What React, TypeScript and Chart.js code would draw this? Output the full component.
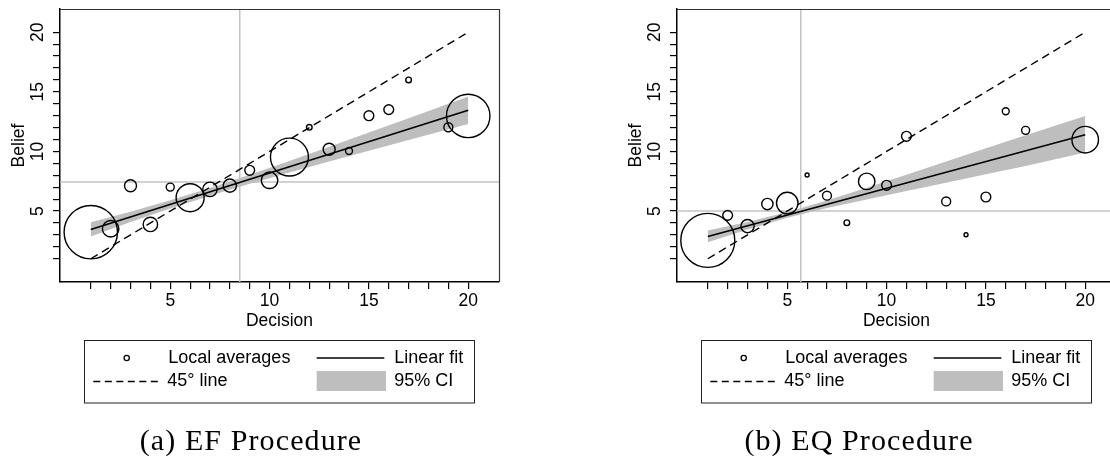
import React, { useEffect, useRef } from 'react';
import { Chart, registerables } from 'chart.js';

Chart.register(...registerables);

// ---------- data ----------
const decisionTicks = [1, 2, 3, 4, 5, 6, 7, 8, 9, 10, 11, 12, 13, 14, 15, 16, 17, 18, 19, 20];
const beliefTicks = [1, 2, 3, 4, 5, 6, 7, 8, 9, 10, 11, 12, 13, 14, 15, 16, 17, 18, 19, 20];
const labeledTicks = [5, 10, 15, 20];
const legendLabels = ['Local averages', 'Linear fit', '45° line', '95% CI'];
const axisTitles = { x: 'Decision', y: 'Belief' };

const diagX = [1, 20];
const diagY = [1, 20];
const ciX = [1, 3, 5, 7, 9, 11, 13, 15, 17, 20];
const fitX = [1, 20];

// (a) EF procedure
const efDecision = [1, 2, 3, 4, 5, 6, 7, 8, 9, 10, 11, 12, 13, 14, 15, 16, 17, 19, 20];
const efBelief = [3.23, 3.52, 7.13, 3.88, 7.01, 6.12, 6.82, 7.13, 8.42, 7.58, 9.53, 12.03, 10.18, 10.04, 13.0, 13.51, 16.0, 12.03, 12.98];
const efCounts = [178, 17, 9, 13, 4, 49, 13, 11, 6, 17, 90, 2, 9, 3, 6, 6, 2, 5, 118];
const efFitY = [3.46, 13.45];
const efCiLow = [2.87, 4.09, 5.22, 6.29, 7.29, 8.23, 9.15, 10.06, 10.96, 12.3];
const efCiHigh = [4.07, 4.94, 5.9, 6.93, 8.05, 9.2, 10.39, 11.59, 12.79, 14.6];
const efMeanDecision = 8.5;
const efMeanBelief = 7.43;

// (b) EQ procedure
const eqDecision = [1, 2, 3, 4, 5, 6, 7, 8, 9, 10, 11, 13, 14, 15, 16, 17, 20];
const eqBelief = [2.54, 4.64, 3.74, 5.59, 5.67, 8.02, 6.29, 4.02, 7.49, 7.16, 11.27, 5.81, 3.01, 6.18, 13.37, 11.77, 10.99];
const eqCounts = [182, 6, 11, 8, 29, 1, 5, 2, 17, 6, 6, 5, 1, 6, 3, 4, 44];
const eqFitY = [2.87, 11.41];
const eqCiLow = [2.38, 3.45, 4.43, 5.25, 5.98, 6.69, 7.38, 8.08, 8.77, 9.92];
const eqCiHigh = [3.36, 4.09, 4.92, 5.89, 6.96, 8.05, 9.15, 10.26, 11.36, 12.97];
const eqMeanDecision = 5.68;
const eqMeanBelief = 5.0;

const captions = ['(a) EF Procedure', '(b) EQ Procedure'];

// ---------- styling ----------
const SANS = '"Liberation Sans", Arial, Helvetica, sans-serif';
const SERIF = '"Liberation Serif", "Times New Roman", serif';
const BAND = '#bebebe';
const REF = '#c4c4c4';

const pts = (xs: number[], ys: number[]) => xs.map((x, i) => ({ x, y: ys[i] }));

type PanelProps = {
  decision: number[];
  belief: number[];
  counts: number[];
  fitY: number[];
  ciLow: number[];
  ciHigh: number[];
  meanX: number;
  meanY: number;
  left: number;
};

function Panel(p: PanelProps) {
  const ref = useRef<HTMLCanvasElement | null>(null);

  useEffect(() => {
    if (!ref.current) return;

    const decor = {
      id: 'decor',
      beforeDatasetsDraw(chart: any) {
        const { ctx, chartArea: a, scales } = chart;
        const px = scales.x.getPixelForValue(p.meanX);
        const py = scales.y.getPixelForValue(p.meanY);
        ctx.save();
        ctx.strokeStyle = REF;
        ctx.lineWidth = 1.5;
        ctx.beginPath();
        ctx.moveTo(px, a.top);
        ctx.lineTo(px, a.bottom);
        ctx.moveTo(a.left, py);
        ctx.lineTo(a.right, py);
        ctx.stroke();
        ctx.restore();
      },
      afterDraw(chart: any) {
        const { ctx, chartArea: a } = chart;
        ctx.save();
        // frame (top & right)
        ctx.strokeStyle = '#333';
        ctx.lineWidth = 1.2;
        ctx.beginPath();
        ctx.moveTo(a.left, a.top + 0.5);
        ctx.lineTo(a.right + 0.5, a.top + 0.5);
        ctx.lineTo(a.right + 0.5, a.bottom);
        ctx.stroke();

        // legend
        const L = a.left;
        const T = a.bottom + 58;
        const r1 = T + 18;
        const r2 = T + 41.5;
        ctx.strokeStyle = '#222';
        ctx.lineWidth = 1;
        ctx.strokeRect(L + 24.5, T + 0.5, 390, 62.5);

        ctx.strokeStyle = '#000';
        ctx.lineWidth = 1.3;
        ctx.beginPath();
        ctx.arc(L + 66.7, r1, 2.6, 0, Math.PI * 2);
        ctx.stroke();

        ctx.lineWidth = 1.4;
        ctx.beginPath();
        ctx.moveTo(L + 256.7, r1);
        ctx.lineTo(L + 324.3, r1);
        ctx.stroke();

        ctx.setLineDash([7, 4.5]);
        ctx.lineWidth = 1.4;
        ctx.beginPath();
        ctx.moveTo(L + 33.3, r2);
        ctx.lineTo(L + 100, r2);
        ctx.stroke();
        ctx.setLineDash([]);

        ctx.fillStyle = BAND;
        ctx.fillRect(L + 256.7, T + 31, 69.3, 20);

        ctx.fillStyle = '#000';
        ctx.font = `18px ${SANS}`;
        ctx.textBaseline = 'middle';
        ctx.textAlign = 'left';
        ctx.fillText(legendLabels[0], L + 108.3, r1);
        ctx.fillText(legendLabels[1], L + 334.3, r1);
        ctx.fillText(legendLabels[2], L + 107.3, r2);
        ctx.fillText(legendLabels[3], L + 334.3, r2);
        ctx.restore();
      },
    };

    const tickFont = { family: SANS, size: 17.5 };
    const zeroPad = (s: any) => {
      s.paddingTop = 0;
      s.paddingBottom = 0;
      s.paddingLeft = 0;
      s.paddingRight = 0;
    };

    const chart = new Chart(ref.current, {
      type: 'line',
      data: {
        datasets: [
          {
            label: legendLabels[0],
            data: pts(p.decision, p.belief),
            showLine: false,
            pointStyle: 'circle',
            pointRadius: (c: any) => 2 * Math.sqrt(p.counts[c.dataIndex] || 1),
            pointBackgroundColor: 'rgba(0,0,0,0)',
            pointBorderColor: '#000',
            pointBorderWidth: 1.4,
            order: 0,
          } as any,
          {
            label: legendLabels[1],
            data: pts(fitX, p.fitY),
            borderColor: '#000',
            borderWidth: 1.6,
            pointRadius: 0,
            fill: false,
            order: 1,
          },
          {
            label: legendLabels[2],
            data: pts(diagX, diagY),
            borderColor: '#000',
            borderWidth: 1.4,
            borderDash: [8, 5],
            pointRadius: 0,
            fill: false,
            order: 2,
          },
          {
            label: 'ci-low',
            data: pts(ciX, p.ciLow),
            borderWidth: 0,
            borderColor: 'rgba(0,0,0,0)',
            pointRadius: 0,
            fill: false,
            order: 3,
          },
          {
            label: legendLabels[3],
            data: pts(ciX, p.ciHigh),
            borderWidth: 0,
            borderColor: 'rgba(0,0,0,0)',
            backgroundColor: BAND,
            pointRadius: 0,
            fill: '-1',
            order: 4,
          },
        ],
      },
      options: {
        responsive: false,
        animation: false,
        devicePixelRatio: 1,
        events: [],
        layout: { padding: { left: 0, right: 56, top: 9, bottom: 141 }, autoPadding: false },
        plugins: { legend: { display: false }, tooltip: { enabled: false } },
        scales: {
          x: {
            type: 'linear',
            min: -0.55,
            max: 21.55,
            afterBuildTicks: (s: any) => {
              s.ticks = decisionTicks.map((v) => ({ value: v }));
            },
            afterFit: (s: any) => {
              s.height = 50;
              zeroPad(s);
            },
            ticks: {
              autoSkip: false,
              minRotation: 0,
              maxRotation: 0,
              padding: 2,
              color: '#000',
              font: tickFont,
              callback: (v: any) => (labeledTicks.includes(Number(v)) ? String(v) : ''),
            },
            grid: { display: true, drawOnChartArea: false, drawTicks: true, tickLength: 7, color: '#000', lineWidth: 1.2 },
            border: { display: true, color: '#000', width: 1.5 },
            title: { display: true, text: axisTitles.x, color: '#000', font: tickFont, padding: { top: 0, bottom: 0 } },
          },
          y: {
            type: 'linear',
            min: -0.95,
            max: 21.95,
            afterBuildTicks: (s: any) => {
              s.ticks = beliefTicks.map((v) => ({ value: v }));
            },
            afterFit: (s: any) => {
              s.width = 60;
              zeroPad(s);
            },
            ticks: {
              autoSkip: false,
              minRotation: 90,
              maxRotation: 90,
              crossAlign: 'center',
              padding: 5,
              color: '#000',
              font: tickFont,
              callback: (v: any) => (labeledTicks.includes(Number(v)) ? String(v) : ''),
            },
            grid: { display: true, drawOnChartArea: false, drawTicks: true, tickLength: 7, color: '#000', lineWidth: 1.2 },
            border: { display: true, color: '#000', width: 1.5 },
            title: { display: true, text: axisTitles.y, color: '#000', font: tickFont, padding: { top: 8.5, bottom: 0 } },
          },
        },
      } as any,
      plugins: [decor],
    });

    return () => chart.destroy();
  }, []);

  return (
    <canvas
      ref={ref}
      width={555}
      height={473}
      style={{ position: 'absolute', left: p.left, top: 0, width: 555, height: 473 }}
    />
  );
}

export default function App() {
  useEffect(() => {
    document.body.style.margin = '0';
  }, []);

  const capStyle = (cx: number): React.CSSProperties => ({
    position: 'absolute',
    left: cx,
    top: 440,
    transform: 'translate(-50%, -50%)',
    fontFamily: SERIF,
    fontSize: 30,
    lineHeight: 1,
    letterSpacing: 1.1,
    whiteSpace: 'nowrap',
    color: '#000',
  });

  return (
    <div style={{ position: 'fixed', left: 0, top: 0, width: 1110, height: 473, overflow: 'hidden', background: '#fff' }}>
      <Panel
        decision={efDecision}
        belief={efBelief}
        counts={efCounts}
        fitY={efFitY}
        ciLow={efCiLow}
        ciHigh={efCiHigh}
        meanX={efMeanDecision}
        meanY={efMeanBelief}
        left={0}
      />
      <Panel
        decision={eqDecision}
        belief={eqBelief}
        counts={eqCounts}
        fitY={eqFitY}
        ciLow={eqCiLow}
        ciHigh={eqCiHigh}
        meanX={eqMeanDecision}
        meanY={eqMeanBelief}
        left={617}
      />
      <div style={capStyle(251)}>{captions[0]}</div>
      <div style={capStyle(859)}>{captions[1]}</div>
    </div>
  );
}
